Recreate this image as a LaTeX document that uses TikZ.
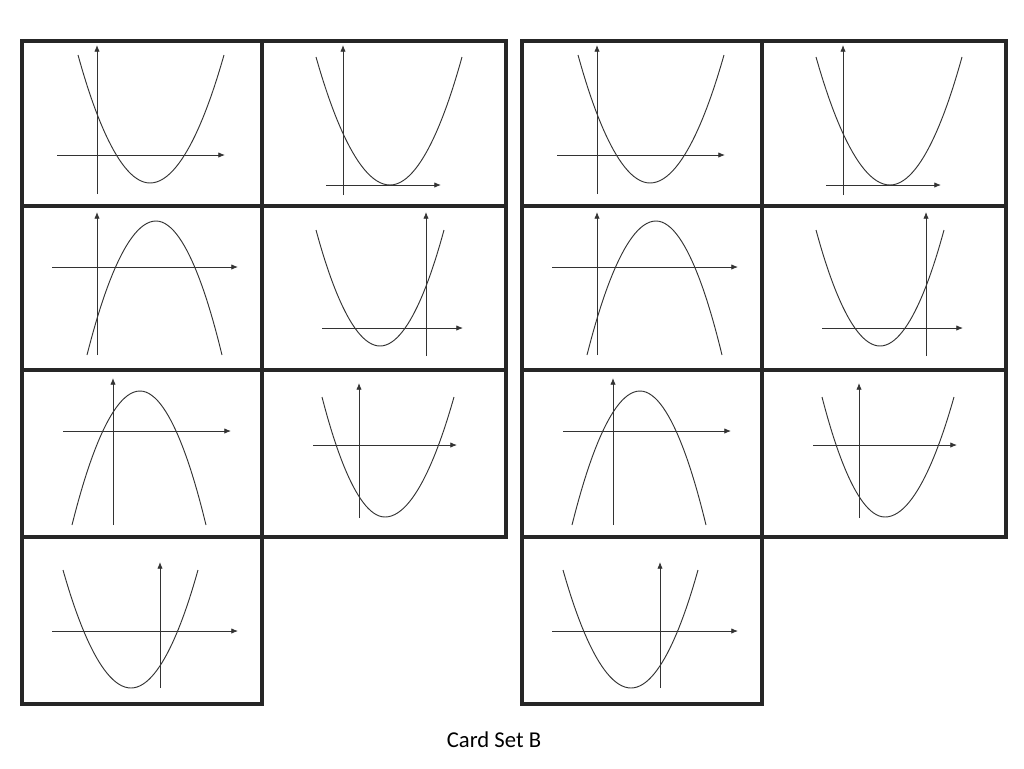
\documentclass[tikz,border=0pt]{standalone}
\usepackage{fontspec}
\setmainfont{Carlito}
\usetikzlibrary{arrows.meta}
\begin{document}
\begin{tikzpicture}[x=0.75pt,y=-0.75pt,
  card/.style={draw=black!85,line width=2.6pt},
  ax/.style={draw=black!80,line width=0.6pt,-{Latex[length=5pt,width=4pt]}},
  cv/.style={draw=black!80,line width=0.7pt}]
\useasboundingbox (0,0) rectangle (1024,768);
\foreach \d in {0,500}{
\begin{scope}[xshift=\d*0.75pt]
\draw[card] (22,41) rectangle (262,206);
\draw[card] (262,41) rectangle (506,206);
\draw[card] (22,206) rectangle (262,370);
\draw[card] (262,206) rectangle (506,370);
\draw[card] (22,370) rectangle (262,537);
\draw[card] (262,370) rectangle (506,537);
\draw[card] (22,537) rectangle (262,704);
% 1,1
\draw[ax] (57,155) -- (225,155); \draw[ax] (97,194) -- (97,45);
\draw[cv] (78,55) parabola bend (150,183) (224,55);
% 1,2
\draw[ax] (326,185) -- (441,185); \draw[ax] (343,195) -- (343,45);
\draw[cv] (316,57) parabola bend (390,185) (462,57);
% 2,1
\draw[ax] (52,267) -- (238,267); \draw[ax] (97,355) -- (97,212);
\draw[cv] (87,355) parabola bend (156,221) (222,355);
% 2,2
\draw[ax] (322,328) -- (463,328); \draw[ax] (426,356) -- (426,212);
\draw[cv] (316,230) parabola bend (380,346) (444,230);
% 3,1
\draw[ax] (63,431) -- (231,431); \draw[ax] (113,525) -- (113,378);
\draw[cv] (72,525) parabola bend (140,391) (206,525);
% 3,2
\draw[ax] (313,445) -- (457,445); \draw[ax] (359,518) -- (359,383);
\draw[cv] (322,397) parabola bend (385,517) (454,397);
% 4,1
\draw[ax] (52,631) -- (238,631); \draw[ax] (160,688) -- (160,562);
\draw[cv] (63,570) parabola bend (131,688) (198,570);
\end{scope}}
\node[font=\fontsize{17}{19}\selectfont] (lbl) at (494,740) {Card Set B};
\end{tikzpicture}
\end{document}
